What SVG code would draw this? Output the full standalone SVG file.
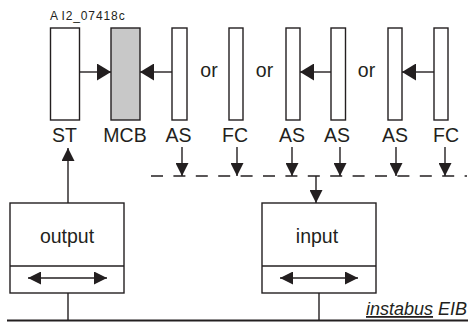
<svg xmlns="http://www.w3.org/2000/svg" width="468" height="323" viewBox="0 0 468 323">
<style>
.box{fill:#fff;stroke:#231f20;stroke-width:1.4}
.mcb{fill:#c8c8c8}
.ln{stroke:#231f20;stroke-width:1.4;fill:none}
.bus{stroke:#231f20;stroke-width:2.2;fill:none}
.dash{stroke:#231f20;stroke-width:1.4;fill:none;stroke-dasharray:12 10.4}
.lbl{font-family:"Liberation Sans",Arial,Helvetica,sans-serif;font-size:19.5px;fill:#231f20;text-anchor:middle}
.ref{font-family:"Liberation Sans",Arial,Helvetica,sans-serif;font-size:12px;fill:#231f20;letter-spacing:0.9px}
.bustxt{font-family:"Liberation Sans",Arial,Helvetica,sans-serif;font-size:18px;font-style:italic;fill:#231f20}
</style>
<defs>
<marker id="ah" viewBox="0 0 14 17" refX="14" refY="8.5" markerWidth="14" markerHeight="17" markerUnits="userSpaceOnUse" orient="auto"><path d="M0,0 L14,8.5 L0,17 z" fill="#231f20"/></marker>
<marker id="as" viewBox="0 0 13 13" refX="13" refY="6.5" markerWidth="13" markerHeight="13" markerUnits="userSpaceOnUse" orient="auto-start-reverse"><path d="M0,0 L13,6.5 L0,13 z" fill="#231f20"/></marker>
</defs>

<text class="ref" x="50" y="19.5">A<tspan dx="2.5">I2_07418c</tspan></text>

<g id="node-ST"><rect class="box" x="50.5" y="28" width="29" height="92"/><text class="lbl" x="64.5" y="142">ST</text></g>
<g id="node-MCB"><rect class="box mcb" x="111" y="28" width="29" height="92"/><text class="lbl" x="125" y="142">MCB</text></g>
<g id="node-AS1"><rect class="box" x="172" y="28" width="15" height="92"/><text class="lbl" x="178.5" y="142">AS</text></g>
<g id="node-FC1"><rect class="box" x="229" y="28" width="14" height="92"/><text class="lbl" x="235" y="142">FC</text></g>
<g id="node-AS2"><rect class="box" x="286" y="28" width="14" height="92"/><text class="lbl" x="292" y="142">AS</text></g>
<g id="node-AS3"><rect class="box" x="331" y="28" width="14.5" height="92"/><text class="lbl" x="337" y="142">AS</text></g>
<g id="node-AS4"><rect class="box" x="388" y="28" width="14" height="92"/><text class="lbl" x="395" y="142">AS</text></g>
<g id="node-FC2"><rect class="box" x="434" y="28" width="14" height="92"/><text class="lbl" x="446" y="142">FC</text></g>

<g id="or-labels">
<text class="lbl" x="209" y="77">or</text>
<text class="lbl" x="264.5" y="77">or</text>
<text class="lbl" x="366.5" y="77">or</text>
</g>

<g id="node-output">
<rect class="box" x="10" y="203" width="114" height="90"/>
<line class="ln" x1="10" y1="266" x2="124" y2="266"/>
<text class="lbl" x="67" y="243">output</text>
<line class="ln" x1="28" y1="278" x2="107" y2="278" marker-start="url(#as)" marker-end="url(#as)"/>
</g>

<g id="node-input">
<rect class="box" x="262" y="203" width="114" height="90"/>
<line class="ln" x1="262" y1="266" x2="376" y2="266"/>
<text class="lbl" x="317" y="243">input</text>
<line class="ln" x1="280" y1="278" x2="358" y2="278" marker-start="url(#as)" marker-end="url(#as)"/>
</g>

<g id="connectors">
<line class="ln" x1="79.5" y1="72" x2="111" y2="72" marker-end="url(#ah)"/>
<line class="ln" x1="172" y1="72" x2="140" y2="72" marker-end="url(#ah)"/>
<line class="ln" x1="331" y1="72" x2="300" y2="72" marker-end="url(#ah)"/>
<line class="ln" x1="434" y1="72" x2="402" y2="72" marker-end="url(#ah)"/>
<line class="ln" x1="182" y1="147" x2="182" y2="176" marker-end="url(#as)"/>
<line class="ln" x1="237" y1="147" x2="237" y2="176" marker-end="url(#as)"/>
<line class="ln" x1="292" y1="147" x2="292" y2="176" marker-end="url(#as)"/>
<line class="ln" x1="340" y1="147" x2="340" y2="176" marker-end="url(#as)"/>
<line class="ln" x1="396" y1="147" x2="396" y2="176" marker-end="url(#as)"/>
<line class="ln" x1="445" y1="147" x2="445" y2="176" marker-end="url(#as)"/>
<line class="dash" x1="151" y1="176" x2="467" y2="176"/>
<line class="ln" x1="316" y1="176" x2="316" y2="203" marker-end="url(#as)"/>
<line class="ln" x1="68" y1="203" x2="68" y2="148" marker-end="url(#as)"/>
<line class="ln" x1="68" y1="293" x2="68" y2="320"/>
<line class="ln" x1="319" y1="293" x2="319" y2="320"/>
<line class="bus" x1="7" y1="320.5" x2="468" y2="320.5"/>
</g>

<text class="bustxt" x="366" y="315"><tspan text-decoration="underline">instabus</tspan> EIB</text>
</svg>
